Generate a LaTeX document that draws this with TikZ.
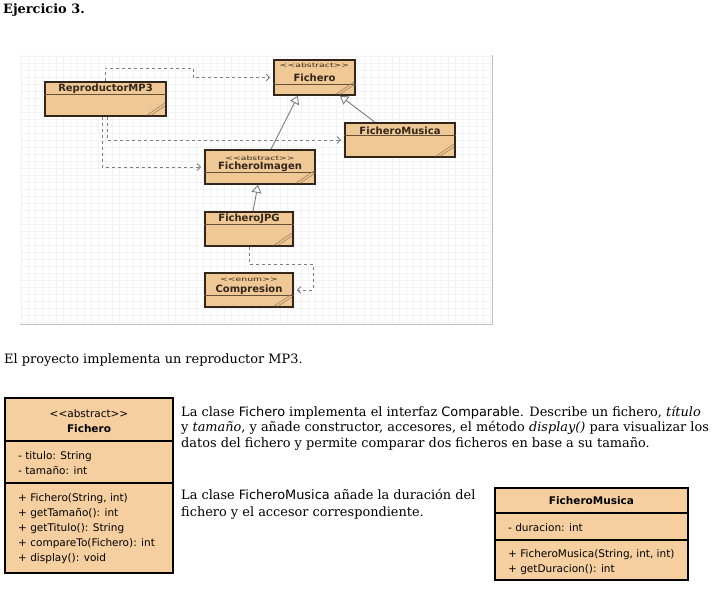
\documentclass[tikz,border=0pt]{standalone}
\usepackage{fontspec}
\setmainfont{DejaVu Serif}
\setsansfont{DejaVu Sans}
\usetikzlibrary{arrows.meta,positioning}
\definecolor{umlfill}{RGB}{246,207,160}
\definecolor{minifill}{RGB}{240,200,150}
\definecolor{miniedge}{RGB}{50,38,26}
\definecolor{linkgray}{RGB}{125,125,125}
\begin{document}
\begin{tikzpicture}[x=1pt, y=-1pt,
  body/.style={font=\fontsize{12.9}{16}\selectfont, inner sep=0pt, anchor=base west},
  minibox/.style={draw=miniedge, fill=minifill, line width=1.6pt, inner sep=0pt, minimum height=34pt},
  minititle/.style={font=\sffamily\bfseries\fontsize{10}{10}\selectfont, text=miniedge, inner sep=0pt},
  ministereo/.style={font=\sffamily\fontsize{6}{6}\selectfont, text=miniedge, inner sep=0pt},
  minidiv/.style={draw=miniedge!75!minifill, line width=0.7pt},
  hatch/.style={draw=miniedge!40!minifill, line width=0.7pt},
  dep/.style={draw=linkgray, dashed, line width=0.9pt, shorten >=3pt, -{Straight Barb[length=3.5pt,width=7pt]}},
  gen/.style={draw=linkgray, line width=0.9pt, -{Triangle[open, length=8pt, width=10pt, fill=white]}},
  umlbox/.style={draw=black, fill=umlfill, line width=2.5pt, inner sep=0pt},
  umldiv/.style={draw=black, line width=1.5pt},
  umltext/.style={font=\sffamily\fontsize{10.5}{12}\selectfont, inner sep=0pt, anchor=base west},
  umltitle/.style={font=\sffamily\bfseries\fontsize{10.5}{12}\selectfont, inner sep=0pt}]
\useasboundingbox[fill=white] (0,0) rectangle (716,598);

% title
\node[body] (ej) at (3,13) {\bfseries Ejercicio 3.};

% embedded class diagram
\draw[black!5, line width=0.4pt] (20,55) grid[step=7pt] (492,324);
\draw[gray!50, line width=1pt] (492,55) -- (492,324) -- (20,324);

\node[minibox, minimum width=121pt] (mp3) at (105.5,99) {};
\node[minibox, minimum width=81pt, minimum height=35pt] (fich) at (314.5,77.5) {};
\node[minibox, minimum width=110pt] (fmus) at (400,140) {};
\node[minibox, minimum width=110pt] (fimg) at (260,167) {};
\node[minibox, minimum width=88pt] (fjpg) at (249,229) {};
\node[minibox, minimum width=88pt] (comp) at (249,290) {};

\draw[minidiv] (mp3.west |- 0,94) -- (mp3.east |- 0,94);
\draw[minidiv] (fich.west |- 0,84) -- (fich.east |- 0,84);
\draw[minidiv] (fmus.west |- 0,135) -- (fmus.east |- 0,135);
\draw[minidiv] (fimg.west |- 0,172) -- (fimg.east |- 0,172);
\draw[minidiv] (fjpg.west |- 0,224) -- (fjpg.east |- 0,224);
\draw[minidiv] (comp.west |- 0,295) -- (comp.east |- 0,295);

\foreach \b in {mp3,fich,fmus,fimg,fjpg,comp} {
  \draw[hatch] ([shift={(-20,-1.5)}]\b.south east) -- ([shift={(-1.5,-14)}]\b.south east);
  \draw[hatch] ([shift={(-16,-1.5)}]\b.south east) -- ([shift={(-1.5,-11)}]\b.south east);
}

\node[minititle] (mp3t) at (105.5,88.5) {ReproductorMP3};
\node[ministereo] (fichs) at (314.5,65) {\scalebox{1.55}[1]{<{}<abstract>{}>}};
\node[minititle] (ficht) at (314.5,77.5) {Fichero};
\node[minititle] (fmust) at (400,130.5) {FicheroMusica};
\node[ministereo] (fimgs) at (260,158) {\scalebox{1.55}[1]{<{}<abstract>{}>}};
\node[minititle] (fimgt) at (260,167) {FicheroImagen};
\node[minititle] (fjpgt) at (249,218.5) {FicheroJPG};
\node[ministereo] (comps) at (249,280) {\scalebox{1.55}[1]{<{}<enum>{}>}};
\node[minititle] (compt) at (249,290) {Compresion};

\draw[dep] (mp3.north -| 105,0) |- (193,68) |- (fich.west);
\draw[dep] (mp3.south -| 107,0) |- (fmus.west);
\draw[dep] (mp3.south -| 102,0) |- (fimg.west);
\draw[dep] (fjpg.south -| 249,0) |- (313,264) |- (comp.east);
\draw[gen] (fimg.north -| 271,0) -- (fich.south -| 298,0);
\draw[gen] (fmus.north -| 375,0) -- (fich.south -| 340,0);
\draw[gen] (fjpg.north -| 253,0) -- (fimg.south -| 258,0);

% text
\node[body] (intro) at (4,363) {El proyecto implementa un reproductor MP3.};
\node[body] (pa1) at (181,416) {La clase \textsf{Fichero} implementa el interfaz \textsf{Comparable}. Describe un fichero, \textit{título}};
\node[body] (pa2) at (181,431.5) {y \textit{tamaño}, y añade constructor, accesores, el método \textit{display()} para visualizar los};
\node[body] (pa3) at (181,447) {datos del fichero y permite comparar dos ficheros en base a su tamaño.};
\node[body] (pb1) at (181,499) {La clase \textsf{FicheroMusica} añade la duración del};
\node[body] (pb2) at (181,516) {fichero y el accesor correspondiente.};

% class Fichero
\node[umlbox, minimum width=168pt, minimum height=175pt] (fbox) at (89,485.5) {};
\draw[umldiv] (fbox.west |- 0,441) -- (fbox.east |- 0,441);
\draw[umldiv] (fbox.west |- 0,483) -- (fbox.east |- 0,483);
\node[font=\sffamily\fontsize{10.5}{12}\selectfont, inner sep=0pt] (fboxs) at (89,414) {<{}<abstract>{}>};
\node[umltitle] (fboxt) at (89,428.5) {Fichero};
\foreach \t [count=\i] in {{- titulo: String}, {- tamaño: int}}
  \node[umltext] (fa\i) at (18,444+15*\i) {\t};
\foreach \t [count=\i] in {{+ Fichero(String, int)}, {+ getTamaño(): int}, {+ getTitulo(): String},
    {+ compareTo(Fichero): int}, {+ display(): void}}
  \node[umltext] (fm\i) at (18,486+15*\i) {\t};

% class FicheroMusica
\node[umlbox, minimum width=193pt, minimum height=92pt] (mbox) at (591.5,534) {};
\draw[umldiv] (mbox.west |- 0,513) -- (mbox.east |- 0,513);
\draw[umldiv] (mbox.west |- 0,540) -- (mbox.east |- 0,540);
\node[umltitle] (mboxt) at (591.5,501) {FicheroMusica};
\node[umltext] (ma1) at (508,531) {- duracion: int};
\foreach \t [count=\i] in {{+ FicheroMusica(String, int, int)}, {+ getDuracion(): int}}
  \node[umltext] (mm\i) at (508,542+15*\i) {\t};
\end{tikzpicture}
\end{document}
